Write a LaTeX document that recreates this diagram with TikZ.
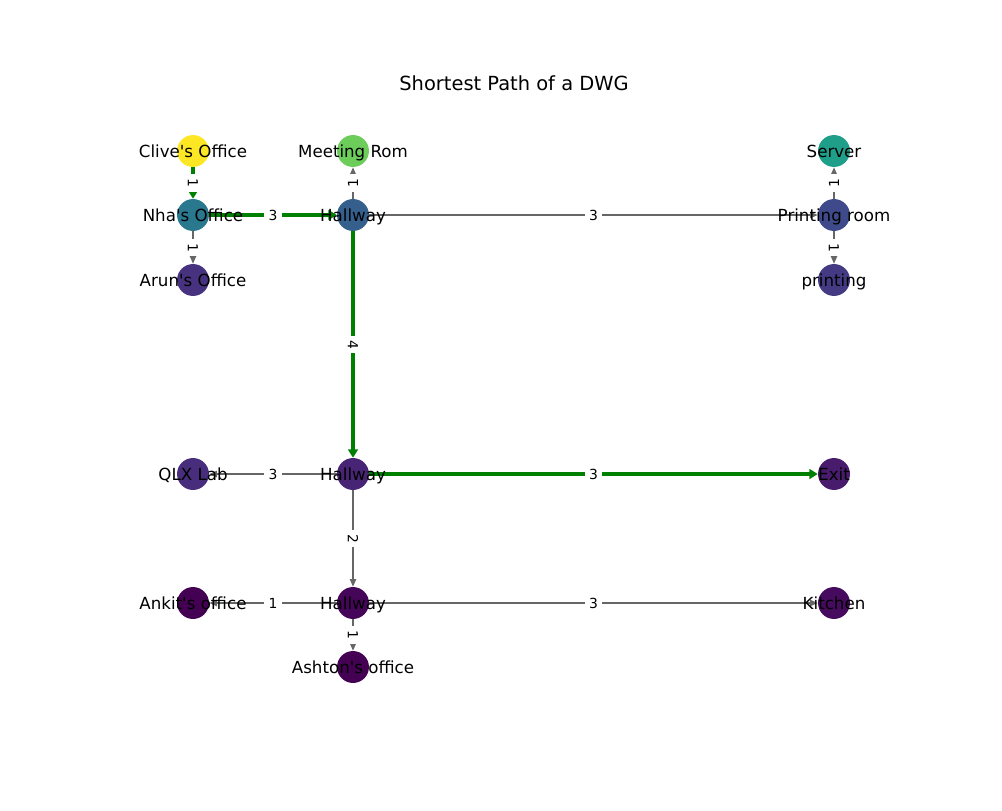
\documentclass[tikz,border=0pt]{standalone}
\usepackage{fontspec}
\setmainfont{DejaVu Sans}
\usepackage{tikz}
\usetikzlibrary{arrows.meta,positioning,backgrounds}

\definecolor{vClive}{HTML}{FDE725}
\definecolor{vMeet}{HTML}{6CCD5A}
\definecolor{vServer}{HTML}{1F9E89}
\definecolor{vNha}{HTML}{2A788E}
\definecolor{vHallA}{HTML}{355F8D}
\definecolor{vPrintRoom}{HTML}{3E4A89}
\definecolor{vPrinting}{HTML}{443A83}
\definecolor{vArun}{HTML}{46327E}
\definecolor{vQlx}{HTML}{472D7B}
\definecolor{vHallB}{HTML}{482475}
\definecolor{vExit}{HTML}{481B6D}
\definecolor{vKitchen}{HTML}{460B5E}
\definecolor{vAnkit}{HTML}{440154}
\definecolor{vHallC}{HTML}{450559}
\definecolor{vAshton}{HTML}{440154}
\definecolor{pathgreen}{HTML}{008000}

\newcommand{\ap}{\textquotesingle}

\tikzset{
  room/.style={circle,minimum size=23pt,inner sep=0pt,fill=#1},
  every label/.style={font=\fontsize{12}{14}\selectfont,text=black,
    text height=9.1pt,text depth=2.8pt,inner sep=0pt,yshift=-1.5pt},
  plain/.style={draw=black!60,line width=1pt,-{Triangle[length=5.5pt,width=4.5pt]}},
  short/.style={draw=pathgreen,line width=3pt,-{Triangle[length=6pt,width=7pt]}},
  wlabel/.style={fill=white,inner sep=3pt,font=\fontsize{10}{12}\selectfont,text=black}
}

\begin{document}
\begin{tikzpicture}[x=0.72pt,y=-0.72pt]

\useasboundingbox (0,0) rectangle (1002,811);

\node[font=\fontsize{14}{17}\selectfont] (title) at (514,83) {Shortest Path of a DWG};

% rooms
\node[room=vClive,label=center:{Clive\ap s Office}] (clive) at (193,151) {};
\node[room=vMeet,label=center:{Meeting Rom}] (meet) at (353,151) {};
\node[room=vServer,label=center:{Server}] (server) at (834,151) {};
\node[room=vNha,label=center:{Nha\ap s Office}] (nha) at (193,215) {};
\node[room=vHallA,label=center:{Hallway}] (hallA) at (353,215) {};
\node[room=vPrintRoom,label=center:{Printing room}] (printroom) at (834,215) {};
\node[room=vArun,label=center:{Arun\ap s Office}] (arun) at (193,280) {};
\node[room=vPrinting,label=center:{printing}] (printing) at (834,280) {};
\node[room=vQlx,label=center:{QLX Lab}] (qlx) at (193,474) {};
\node[room=vHallB,label=center:{Hallway}] (hallB) at (353,474) {};
\node[room=vExit,label=center:{Exit}] (exit) at (834,474) {};
\node[room=vAnkit,label=center:{Ankit\ap s office}] (ankit) at (193,603) {};
\node[room=vHallC,label=center:{Hallway}] (hallC) at (353,603) {};
\node[room=vKitchen,label=center:{Kitchen}] (kitchen) at (834,603) {};
\node[room=vAshton,label=center:{Ashton\ap s office}] (ashton) at (353,667) {};

% edges
\begin{scope}[on background layer]
\draw[plain] (nha) -- node[wlabel,rotate=-90] {1} (arun);
\draw[plain] (hallA) -- node[wlabel,rotate=90] {1} (meet);
\draw[plain] (hallA) -- node[wlabel] {3} (printroom);
\draw[plain] (printroom) -- node[wlabel,rotate=90] {1} (server);
\draw[plain] (printroom) -- node[wlabel,rotate=-90] {1} (printing);
\draw[plain] (hallB) -- node[wlabel] {3} (qlx);
\draw[plain] (hallB) -- node[wlabel,rotate=-90] {2} (hallC);
\draw[plain] (hallC) -- node[wlabel] {1} (ankit);
\draw[plain] (hallC) -- node[wlabel,rotate=-90] {1} (ashton);
\draw[plain] (hallC) -- node[wlabel] {3} (kitchen);

% shortest path
\draw[short] (clive) -- node[wlabel,rotate=-90] {1} (nha);
\draw[short] (nha) -- node[wlabel] {3} (hallA);
\draw[short] (hallA) -- node[wlabel,rotate=-90] {4} (hallB);
\draw[short] (hallB) -- node[wlabel] {3} (exit);
\end{scope}

\end{tikzpicture}
\end{document}
